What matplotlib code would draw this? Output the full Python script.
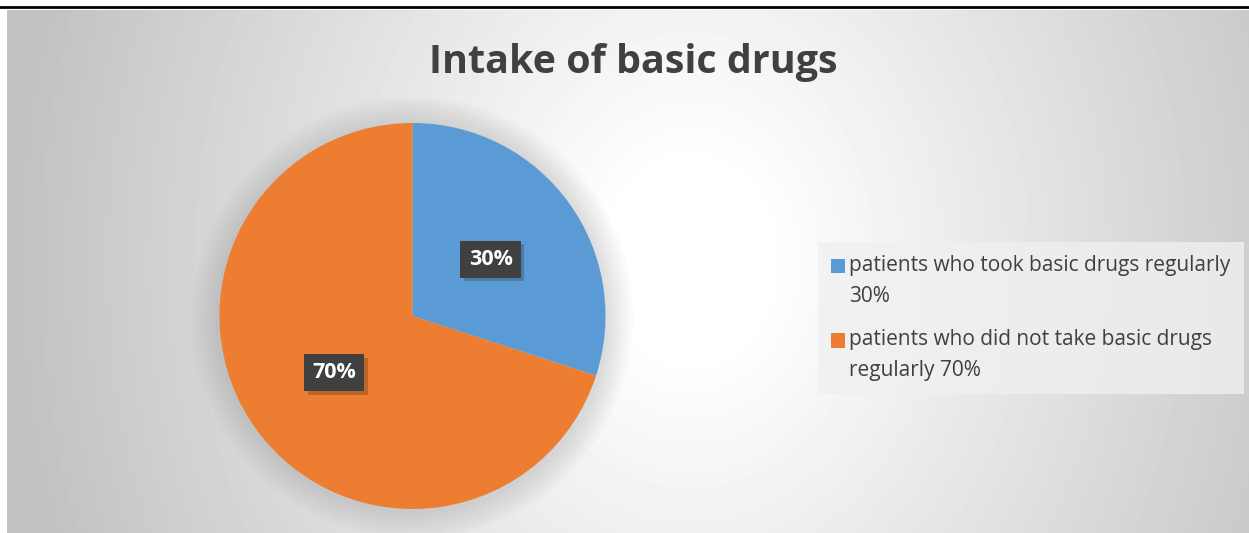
import numpy as np
import matplotlib.pyplot as plt
import matplotlib.patheffects as pe
from matplotlib.patches import Patch, Rectangle
from matplotlib.legend_handler import HandlerPatch

# données
labels = ['patients who took basic drugs regularly\n30%',
          'patients who did not take basic drugs\nregularly 70%']
values = [30, 70]
pct_labels = ['30%', '70%']
colors = ['#5B9BD5', '#ED7D31']
title = 'Intake of basic drugs'

W, H = 1249, 533
fig = plt.figure(figsize=(W / 100, H / 100), dpi=100)
fig.patch.set_facecolor('white')

# fond avec dégradé radial
x0, y0 = 7, 10
bg = fig.add_axes([x0 / W, 0, (W - x0) / W, (H - y0) / H])
yy, xx = np.mgrid[y0:H, x0:W]
d = np.sqrt(((xx - 690) / 650.0) ** 2 + ((yy - 260) / 800.0) ** 2)
g = np.clip(1 - 0.23 * np.clip(d - 0.12, 0, None) / 0.88, 0.76, 1)
bg.imshow(g, cmap='gray', vmin=0, vmax=1, aspect='auto', interpolation='bilinear')
bg.axis('off')

# trait noir en haut
fig.add_artist(plt.Line2D([0, 1], [1 - 7 / H, 1 - 7 / H], color='black', lw=2))

# titre
fig.text(633 / W, 1 - 63 / H, title, ha='center', va='center',
         fontsize=28.4, fontweight='bold', color='#404040', family='Open Sans')

# camembert
cx, cy, r = 412.5, 316, 193
ax = fig.add_axes([(cx - r) / W, 1 - (cy + r) / H, 2 * r / W, 2 * r / H])
ax.axis('off')
for k in range(8):
    ax.add_patch(plt.Circle((0.0, -0.01), 1.0 + 0.018 * (k + 1), color='#808080',
                            alpha=0.03, lw=0, zorder=0, clip_on=False))
wedges, _ = ax.pie(values, colors=colors, startangle=90, counterclock=False,
                   radius=1, wedgeprops=dict(linewidth=0))
ax.set_xlim(-1, 1)
ax.set_ylim(-1, 1)
for w, t in zip(wedges, pct_labels):
    a = np.deg2rad((w.theta1 + w.theta2) / 2)
    x, y = 0.5 * np.cos(a), 0.5 * np.sin(a)
    txt = ax.text(x, y, t, ha='center', va='center', fontsize=15.5, fontweight='bold',
                  color='white', family='Open Sans', zorder=5,
                  bbox=dict(boxstyle='square,pad=0.38', facecolor='#404040', edgecolor='none'))
    txt.get_bbox_patch().set_path_effects(
        [pe.SimplePatchShadow(offset=(2.5, -2.5), shadow_rgbFace='black', alpha=0.2),
         pe.Normal()])


# carré de légende aligné sur la première ligne
def carre_haut(legend, orig_handle, xdescent, ydescent, width, height, fontsize):
    return Rectangle((-xdescent, -ydescent + 11.2), width, height)


# légende
handles = [Patch(facecolor=c, edgecolor='none') for c in colors]
leg = fig.legend(handles, labels, loc='upper left', bbox_to_anchor=(824 / W, 1 - 248 / H),
                 frameon=True, handlelength=0.7, handleheight=0.7,
                 handletextpad=0.2, labelspacing=1.05, borderpad=0.32,
                 borderaxespad=0, prop=dict(family='Open Sans', size=15),
                 handler_map={Patch: HandlerPatch(patch_func=carre_haut)})
leg.get_frame().set_facecolor('#f0f0f0')
leg.get_frame().set_edgecolor('none')
leg.get_frame().set_boxstyle('square')
for t in leg.get_texts():
    t.set_color('#404040')
    t.set_linespacing(1.65)

plt.savefig('out.png', dpi=100)
